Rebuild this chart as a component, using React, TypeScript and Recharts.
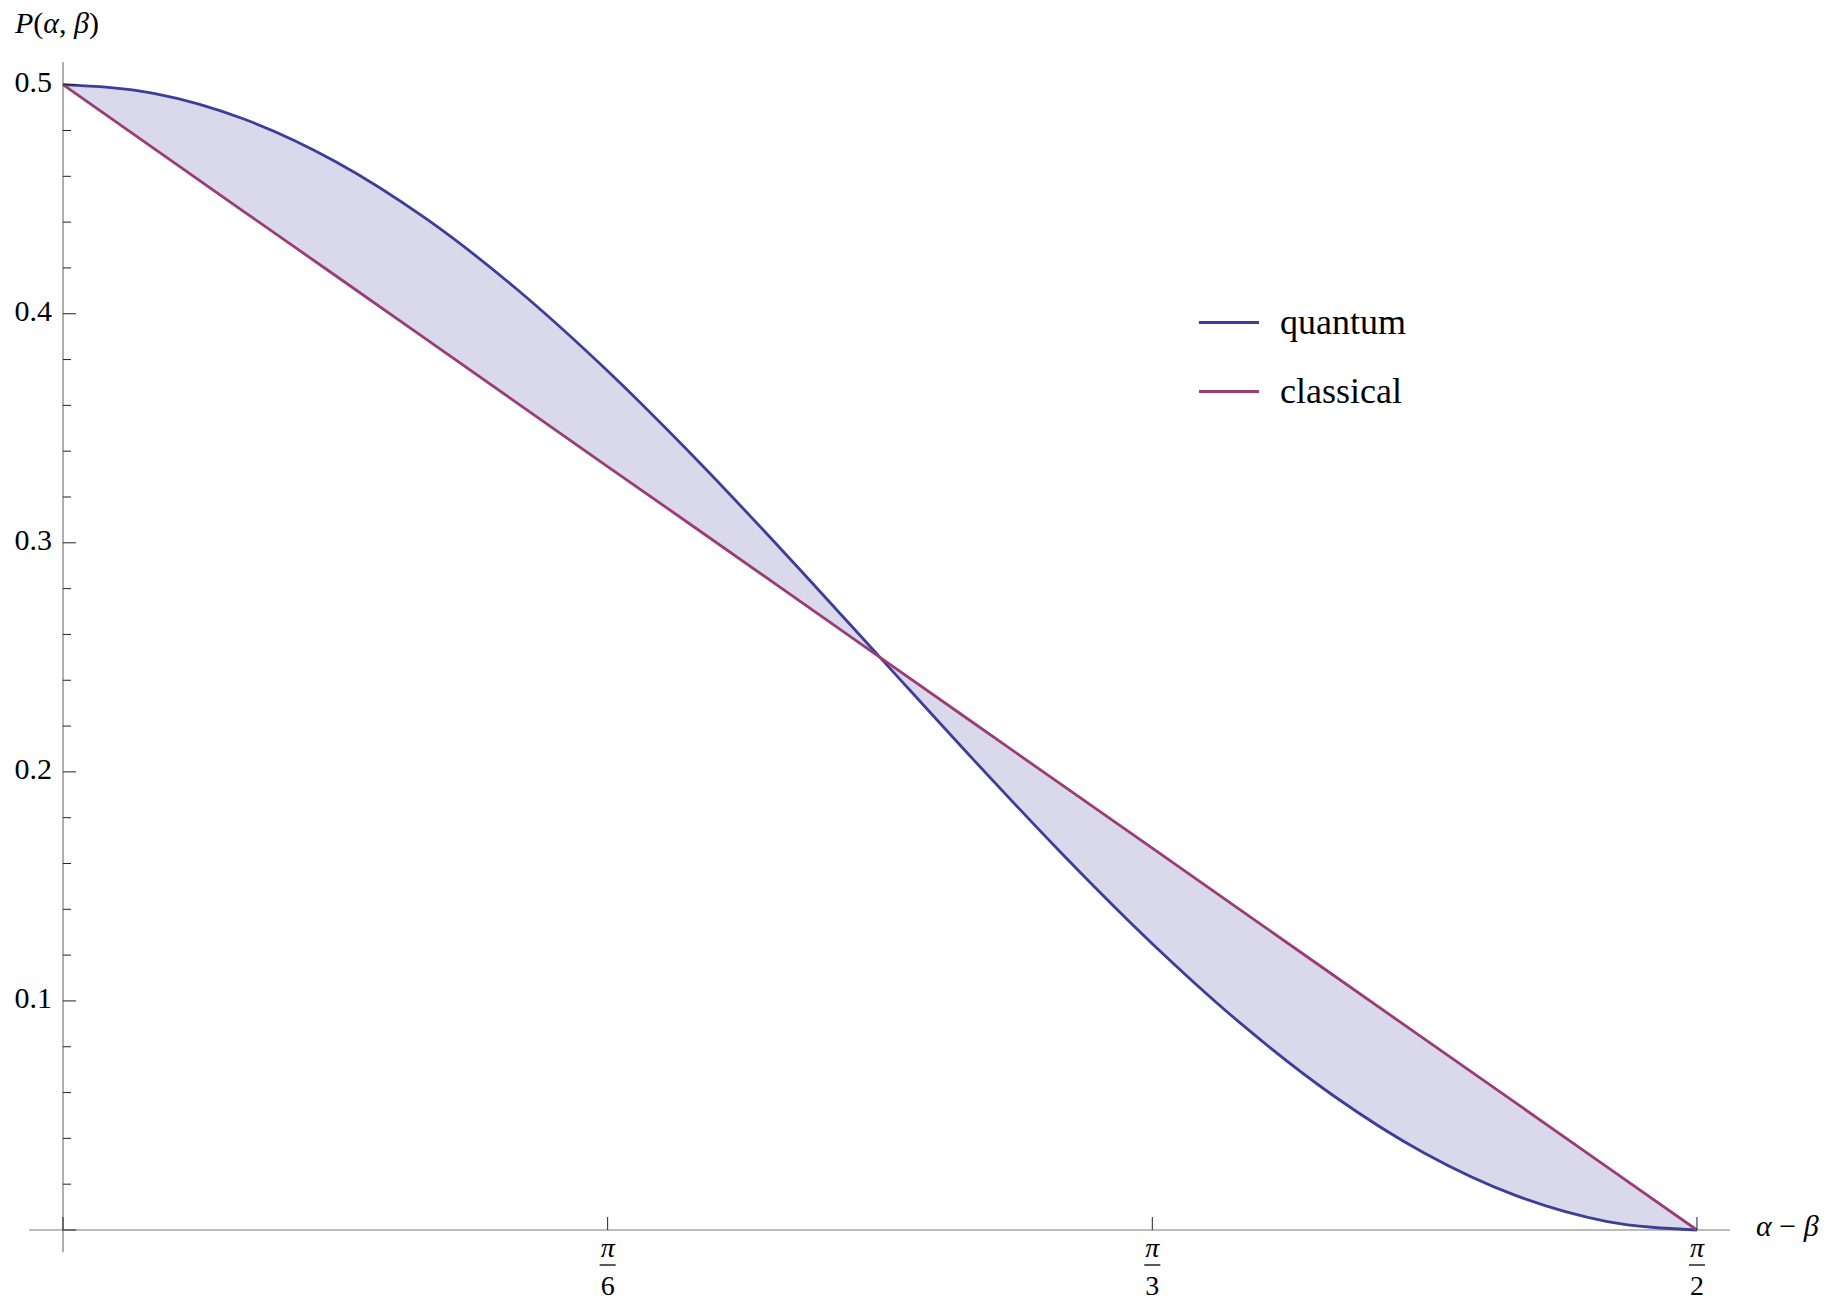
import { ComposedChart, Area, Line, XAxis, YAxis, ReferenceLine, Legend } from "recharts";

// angle alpha - beta in degrees (0 .. 90 = pi/2)
const ANGLE_DEG = [0, 5, 10, 15, 20, 25, 30, 35, 40, 45, 50, 55, 60, 65, 70, 75, 80, 85, 90];
const QUANTUM = [
  0.5, 0.4962, 0.4849, 0.4665, 0.4415, 0.4107, 0.375, 0.3355, 0.2934, 0.25,
  0.2066, 0.1645, 0.125, 0.0893, 0.0585, 0.0335, 0.0151, 0.0038, 0,
];
const CLASSICAL = [
  0.5, 0.4722, 0.4444, 0.4167, 0.3889, 0.3611, 0.3333, 0.3056, 0.2778, 0.25,
  0.2222, 0.1944, 0.1667, 0.1389, 0.1111, 0.0833, 0.0556, 0.0278, 0,
];
const SERIES_ORDER = ["quantum", "classical"];

const X_TICKS = [0, 30, 60, 90];
const X_TICK_DENOMS = ["", "6", "3", "2"];
const Y_TICKS = [
  0, 0.02, 0.04, 0.06, 0.08, 0.1, 0.12, 0.14, 0.16, 0.18, 0.2, 0.22, 0.24,
  0.26, 0.28, 0.3, 0.32, 0.34, 0.36, 0.38, 0.4, 0.42, 0.44, 0.46, 0.48, 0.5,
];

// how far the drawn axes run past the data
const X_MIN = -1.87;
const X_MAX = 91.82;
const Y_MIN = -0.0097;
const Y_MAX = 0.5099;

const BLUE = "#3d3d9a";
const MAGENTA = "#9a3d72";
const FILL = "#d9d9eb";
const AXIS = "#7a7a7a";
const FONT = '"Liberation Serif", "Times New Roman", serif';

const data = ANGLE_DEG.map((deg, i) => ({
  deg,
  quantum: QUANTUM[i],
  classical: CLASSICAL[i],
  band: [CLASSICAL[i], QUANTUM[i]],
}));

function XTick(props: any) {
  const { x, y, payload } = props;
  const idx = X_TICKS.indexOf(payload.value);
  const denom = X_TICK_DENOMS[idx] ?? "";
  return (
    <g>
      <line x1={x} x2={x} y1={y - 13} y2={y} stroke="#222" strokeWidth={1} />
      {denom && (
        <g fontFamily={FONT} fontSize={28} fill="#000" textAnchor="middle">
          <text x={x} y={y + 27} fontStyle="italic">π</text>
          <line x1={x - 8} x2={x + 8} y1={y + 35} y2={y + 35} stroke="#000" strokeWidth={1.3} />
          <text x={x} y={y + 65}>{denom}</text>
        </g>
      )}
    </g>
  );
}

function YTick(props: any) {
  const { x, y, payload } = props;
  const v = payload.value as number;
  const major = Math.abs(v * 10 - Math.round(v * 10)) < 1e-6;
  return (
    <g>
      <line x1={x} x2={x + (major ? 13 : 8)} y1={y} y2={y} stroke="#222" strokeWidth={1} />
      {major && v > 0 && (
        <text x={x - 11} y={y + 7} textAnchor="end" fontFamily={FONT} fontSize={30} fill="#000">
          {v.toFixed(1)}
        </text>
      )}
    </g>
  );
}

function XLabel(props: any) {
  const vb = props.viewBox;
  return (
    <text x={vb.x + vb.width + 26} y={vb.y + 6} fontFamily={FONT} fontSize={30} fill="#000">
      <tspan fontStyle="italic">α</tspan>
      <tspan> − </tspan>
      <tspan fontStyle="italic">β</tspan>
    </text>
  );
}

function YLabel(props: any) {
  const vb = props.viewBox;
  return (
    <text x={vb.x + 15} y={vb.y - 29} fontFamily={FONT} fontSize={30} fill="#000">
      <tspan fontStyle="italic">P</tspan>
      <tspan>(</tspan>
      <tspan fontStyle="italic">α</tspan>
      <tspan>, </tspan>
      <tspan fontStyle="italic">β</tspan>
      <tspan>)</tspan>
    </text>
  );
}

function LegendBox(props: any) {
  const items = (props.payload || [])
    .filter((p: any) => p.type !== "none" && SERIES_ORDER.includes(p.value))
    .sort((a: any, b: any) => SERIES_ORDER.indexOf(a.value) - SERIES_ORDER.indexOf(b.value));
  return (
    <div style={{ fontFamily: FONT, fontSize: 36, color: "#000" }}>
      {items.map((e: any) => (
        <div key={e.value} style={{ display: "flex", alignItems: "center", height: 69 }}>
          <span style={{ width: 60, height: 3, background: e.color, marginRight: 21, display: "inline-block" }} />
          <span>{e.value}</span>
        </div>
      ))}
    </div>
  );
}

export default function App() {
  return (
    <div style={{ position: "absolute", left: 0, top: 0, width: 1829, height: 1301, background: "#fff" }}>
      <ComposedChart
        width={1829}
        height={1301}
        data={data}
        margin={{ top: 62, right: 99, bottom: 0, left: 0 }}
      >
        <XAxis
          dataKey="deg"
          type="number"
          domain={[0, X_MAX]}
          ticks={X_TICKS}
          interval={0}
          height={71}
          axisLine={false}
          tickLine={false}
          tickSize={0}
          tickMargin={0}
          tick={<XTick />}
          label={<XLabel />}
        />
        <YAxis
          type="number"
          domain={[0, Y_MAX]}
          ticks={Y_TICKS}
          interval={0}
          width={63}
          axisLine={false}
          tickLine={false}
          tickSize={0}
          tickMargin={0}
          tick={<YTick />}
          label={<YLabel />}
        />
        <ReferenceLine
          segment={[{ x: X_MIN, y: 0 }, { x: X_MAX, y: 0 }]}
          ifOverflow="visible"
          stroke={AXIS}
          strokeWidth={1.2}
        />
        <ReferenceLine
          segment={[{ x: 0, y: Y_MIN }, { x: 0, y: Y_MAX }]}
          ifOverflow="visible"
          stroke={AXIS}
          strokeWidth={1.2}
        />
        <Area
          dataKey="band"
          type="monotone"
          stroke="none"
          fill={FILL}
          fillOpacity={1}
          legendType="none"
          isAnimationActive={false}
        />
        <Line
          dataKey="quantum"
          name="quantum"
          type="monotone"
          stroke={BLUE}
          strokeWidth={2.8}
          dot={false}
          isAnimationActive={false}
        />
        <Line
          dataKey="classical"
          name="classical"
          type="linear"
          stroke={MAGENTA}
          strokeWidth={2.8}
          dot={false}
          isAnimationActive={false}
        />
        <Legend
          layout="vertical"
          align="center"
          verticalAlign="middle"
          content={<LegendBox />}
          wrapperStyle={{ position: "absolute", left: 1199, top: 287.5, width: "auto", height: "auto" }}
        />
      </ComposedChart>
    </div>
  );
}
